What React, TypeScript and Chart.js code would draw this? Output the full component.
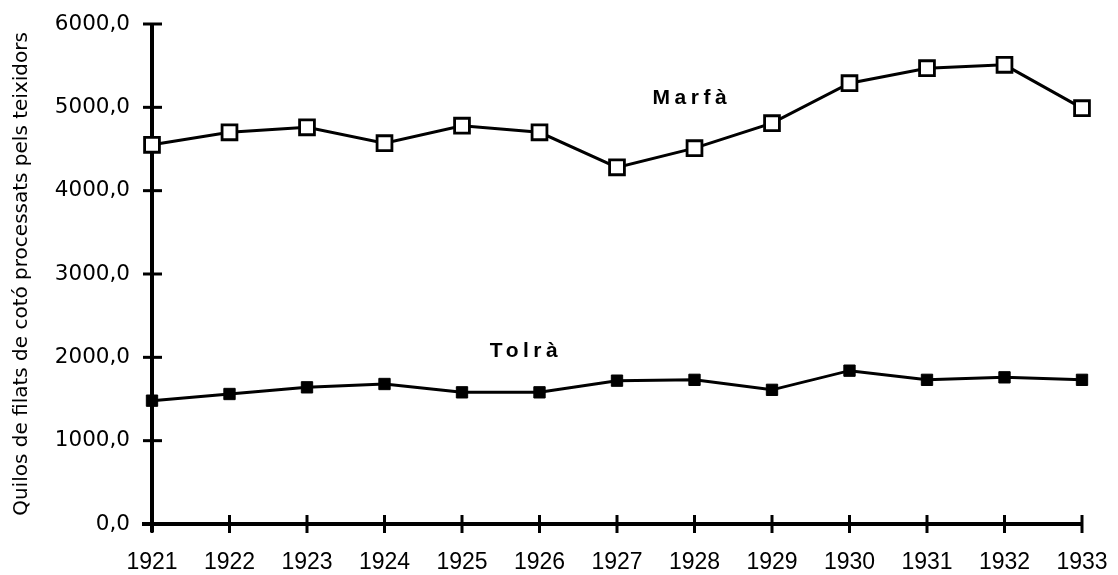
import React, { useEffect, useRef } from "react";
import { Chart, registerables } from "chart.js";

Chart.register(...registerables);

const years = ["1921", "1922", "1923", "1924", "1925", "1926", "1927", "1928", "1929", "1930", "1931", "1932", "1933"];
const marfa = [4550, 4700, 4760, 4570, 4780, 4700, 4280, 4510, 4810, 5290, 5470, 5510, 4990];
const tolra = [1480, 1560, 1640, 1680, 1580, 1580, 1720, 1730, 1610, 1840, 1730, 1760, 1730];
const yTicks = [0, 1000, 2000, 3000, 4000, 5000, 6000];
const seriesNames = ["Marfà", "Tolrà"];
// label anchor positions in data units: [category index, value]
const labelAnchors = [
  [6.94, 5110],
  [4.8, 2075],
];
const yTitle = "Quilos de filats de cotó processats pels teixidors";

const formatTick = (v: number) => v.toFixed(1).replace(".", ",");

const axesPlugin = {
  id: "axesPlugin",
  beforeDatasetsDraw(chart: any) {
    const { ctx, scales } = chart;
    const x = scales.x;
    const y = scales.y;
    const x0 = x.getPixelForValue(0);
    const xEnd = x.getPixelForValue(years.length - 1);
    const y0 = y.getPixelForValue(0);
    const yTop = y.getPixelForValue(yTicks[yTicks.length - 1]);
    ctx.save();
    ctx.strokeStyle = "#000";
    ctx.lineCap = "butt";
    ctx.lineWidth = 4;
    ctx.beginPath();
    ctx.moveTo(x0, yTop);
    ctx.lineTo(x0, y0 + 8);
    ctx.stroke();
    ctx.beginPath();
    ctx.moveTo(x0 - 10, y0);
    ctx.lineTo(xEnd + 1, y0);
    ctx.stroke();
    ctx.lineWidth = 3;
    yTicks.forEach((v) => {
      const py = y.getPixelForValue(v);
      ctx.beginPath();
      ctx.moveTo(x0 - 9, py);
      ctx.lineTo(x0 + 10, py);
      ctx.stroke();
    });
    years.forEach((_, i) => {
      const px = x.getPixelForValue(i);
      ctx.beginPath();
      ctx.moveTo(px, y0 - 9);
      ctx.lineTo(px, y0 + 9);
      ctx.stroke();
    });
    ctx.restore();
  },
  afterDatasetsDraw(chart: any) {
    const { ctx, scales } = chart;
    ctx.save();
    ctx.fillStyle = "#000";
    ctx.font = "bold 21px 'Liberation Sans', Arial, sans-serif";
    ctx.textAlign = "center";
    ctx.textBaseline = "middle";
    try {
      (ctx as any).letterSpacing = "4.5px";
    } catch (e) {}
    seriesNames.forEach((name, i) => {
      const [ci, v] = labelAnchors[i];
      const px = scales.x.getPixelForValue(ci);
      const py = scales.y.getPixelForValue(v);
      ctx.fillText(name, px + 2, py);
    });
    ctx.restore();
  },
};

export default function App() {
  const ref = useRef<HTMLCanvasElement | null>(null);

  useEffect(() => {
    if (!ref.current) return;
    const chart = new Chart(ref.current, {
      type: "line",
      data: {
        labels: years,
        datasets: [
          {
            label: seriesNames[0],
            data: marfa,
            borderColor: "#000",
            borderWidth: 3,
            backgroundColor: "#fff",
            pointStyle: "rect",
            pointRadius: 10.5,
            pointBorderWidth: 2.8,
            pointBorderColor: "#000",
            pointBackgroundColor: "#fff",
            tension: 0,
          },
          {
            label: seriesNames[1],
            data: tolra,
            borderColor: "#000",
            borderWidth: 3,
            backgroundColor: "#000",
            pointStyle: "rect",
            pointRadius: 8,
            pointBorderWidth: 1,
            pointBorderColor: "#000",
            pointBackgroundColor: "#000",
            tension: 0,
          },
        ],
      },
      options: {
        animation: false,
        responsive: true,
        maintainAspectRatio: false,
        layout: { padding: { top: 24, right: 36, left: 0, bottom: 0 } },
        plugins: { legend: { display: false }, tooltip: { enabled: false } },
        scales: {
          x: {
            type: "category",
            offset: false,
            grid: { display: false, drawTicks: false },
            border: { display: false },
            afterFit: (s: any) => {
              s.height = 51;
              s.paddingLeft = 0;
              s.paddingRight = 0;
            },
            ticks: {
              color: "#000",
              padding: 25,
              maxRotation: 0,
              autoSkip: false,
              font: { family: "'Liberation Sans', Arial, sans-serif", size: 23 },
            },
          },
          y: {
            min: 0,
            max: 6000,
            afterBuildTicks: (s: any) => {
              s.ticks = yTicks.map((v) => ({ value: v }));
            },
            afterFit: (s: any) => {
              s.width = 152;
              s.paddingTop = 0;
              s.paddingBottom = 0;
            },
            grid: { display: false, drawTicks: false },
            border: { display: false },
            ticks: {
              color: "#000",
              padding: 22,
              callback: (v: any) => formatTick(Number(v)),
              font: { family: "'DejaVu Sans', sans-serif", size: 21.5 },
            },
            title: {
              display: true,
              text: yTitle,
              color: "#000",
              padding: { top: 10, bottom: 0 },
              font: { family: "'DejaVu Sans', sans-serif", size: 20 },
            },
          },
        },
      },
      plugins: [axesPlugin],
    });
    return () => chart.destroy();
  }, []);

  return (
    <div style={{ position: "fixed", left: 0, top: 0, width: 1118, height: 575, background: "#fff" }}>
      <canvas ref={ref} />
    </div>
  );
}
